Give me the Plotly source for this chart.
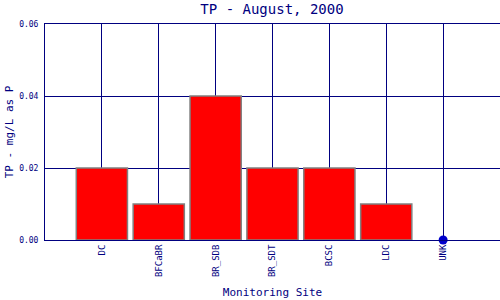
import plotly.graph_objects as go

sites = ["DC", "BFCaBR", "BR_SDB", "BR_SDT", "BCSC", "LDC", "UNK"]
tp_values = [0.02, 0.01, 0.04, 0.02, 0.02, 0.01, None]
unk_site = ["UNK"]
unk_value = [0.0]
y_ticks = [0.0, 0.02, 0.04, 0.06]
y_tick_labels = ["0.00", "0.02", "0.04", "0.06"]

NAVY = "#000080"
FONT = "DejaVu Sans Mono"

fig = go.Figure()
fig.add_trace(go.Bar(
    x=sites, y=tp_values, width=0.9,
    marker=dict(color="#ff0000", line=dict(color="#808080", width=1.5)),
))
fig.add_trace(go.Scatter(
    x=unk_site, y=unk_value, mode="markers",
    marker=dict(color="#0000cc", size=9), cliponaxis=False,
))

fig.update_layout(
    width=500, height=300,
    margin=dict(l=45, r=0, t=24, b=60),
    paper_bgcolor="white", plot_bgcolor="white",
    showlegend=False,
    bargap=0.1,
    title=dict(text="TP - August, 2000", x=0.544, xanchor="center",
               y=0.985, yanchor="top",
               font=dict(family=FONT, size=14, color=NAVY)),
    font=dict(family=FONT, color=NAVY),
)
fig.update_xaxes(
    type="category", categoryorder="array", categoryarray=sites,
    range=[-1, 7],
    showgrid=True, gridcolor=NAVY, gridwidth=1,
    showline=True, linecolor=NAVY, linewidth=1, mirror=True,
    tickangle=-90, tickfont=dict(family=FONT, size=9, color=NAVY),
    ticks="", ticklen=0,
    title=dict(text="Monitoring Site", font=dict(family=FONT, size=11, color=NAVY), standoff=12),
    zeroline=False,
)
fig.update_yaxes(
    range=[0, 0.06], tickvals=y_ticks, ticktext=y_tick_labels,
    showgrid=True, gridcolor=NAVY, gridwidth=1,
    showline=True, linecolor=NAVY, linewidth=1, mirror=True,
    tickfont=dict(family=FONT, size=8, color=NAVY),
    ticks="", ticklabelstandoff=4,
    title=dict(text="TP - mg/L as P", font=dict(family=FONT, size=11, color=NAVY), standoff=3),
    zeroline=False,
)
fig.write_html("out.html")
